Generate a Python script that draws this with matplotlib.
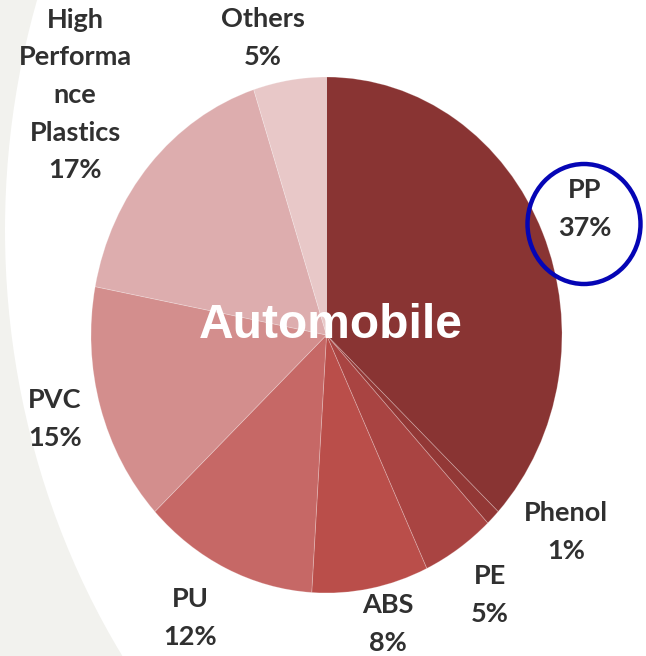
import matplotlib
matplotlib.use("Agg")
import matplotlib.pyplot as plt
from matplotlib.patches import Ellipse

# ---- data ----
categories = ["PP", "Phenol", "PE", "ABS", "PU", "PVC", "High\nPerforma\nnce\nPlastics", "Others"]
shares = [37, 1, 5, 8, 12, 15, 17, 5]
colors = ["#893433", "#933836", "#A94442", "#BA4E4A", "#C66866", "#D38E8D", "#DDADAE", "#E8C8C8"]
center_title = "Automobile"

# label anchor positions in pixels (layout)
label_pos = [(585, 209), (566, 532), (490, 595), (388, 624), (190, 618), (55, 419), (75, 95), (263, 38)]

W, H = 646, 656
fig = plt.figure(figsize=(W / 100, H / 100), dpi=100)
fig.patch.set_facecolor("#f2f2ee")

# overlay axes in pixel coordinates
bg = fig.add_axes([0, 0, 1, 1])
bg.set_xlim(0, W)
bg.set_ylim(H, 0)
bg.axis("off")
bg.add_patch(Ellipse((700, 230), 1390, 1532, facecolor="white", edgecolor="none"))

# pie axes (elliptical pie)
left, right, top, bottom = 91, 562, 77, 593
ax = fig.add_axes([left / W, (H - bottom) / H, (right - left) / W, (bottom - top) / H])
wedges, _ = ax.pie(shares, colors=colors, startangle=90, counterclock=False,
                   radius=1.0, wedgeprops=dict(edgecolor=(1, 1, 1, 0.25), linewidth=0.6))
ax.set_aspect("auto")
ax.set_xlim(-1, 1)
ax.set_ylim(-1, 1)
ax.axis("off")

# labels
top_ax = fig.add_axes([0, 0, 1, 1])
top_ax.set_xlim(0, W)
top_ax.set_ylim(H, 0)
top_ax.axis("off")
for name, val, (x, y) in zip(categories, shares, label_pos):
    top_ax.text(x, y, f"{name}\n{val}%", ha="center", va="center", fontsize=19.5,
                family="Lato", fontweight="bold", color="#303030", linespacing=1.68)

top_ax.text(331, 326, center_title, ha="center", va="center", fontsize=34.5,
            family="Liberation Sans", fontweight="bold", color="white")

top_ax.add_patch(Ellipse((584, 224), 113, 120, facecolor="none", edgecolor="#0505B5", linewidth=3.2))

fig.savefig("out.png", dpi=100)
